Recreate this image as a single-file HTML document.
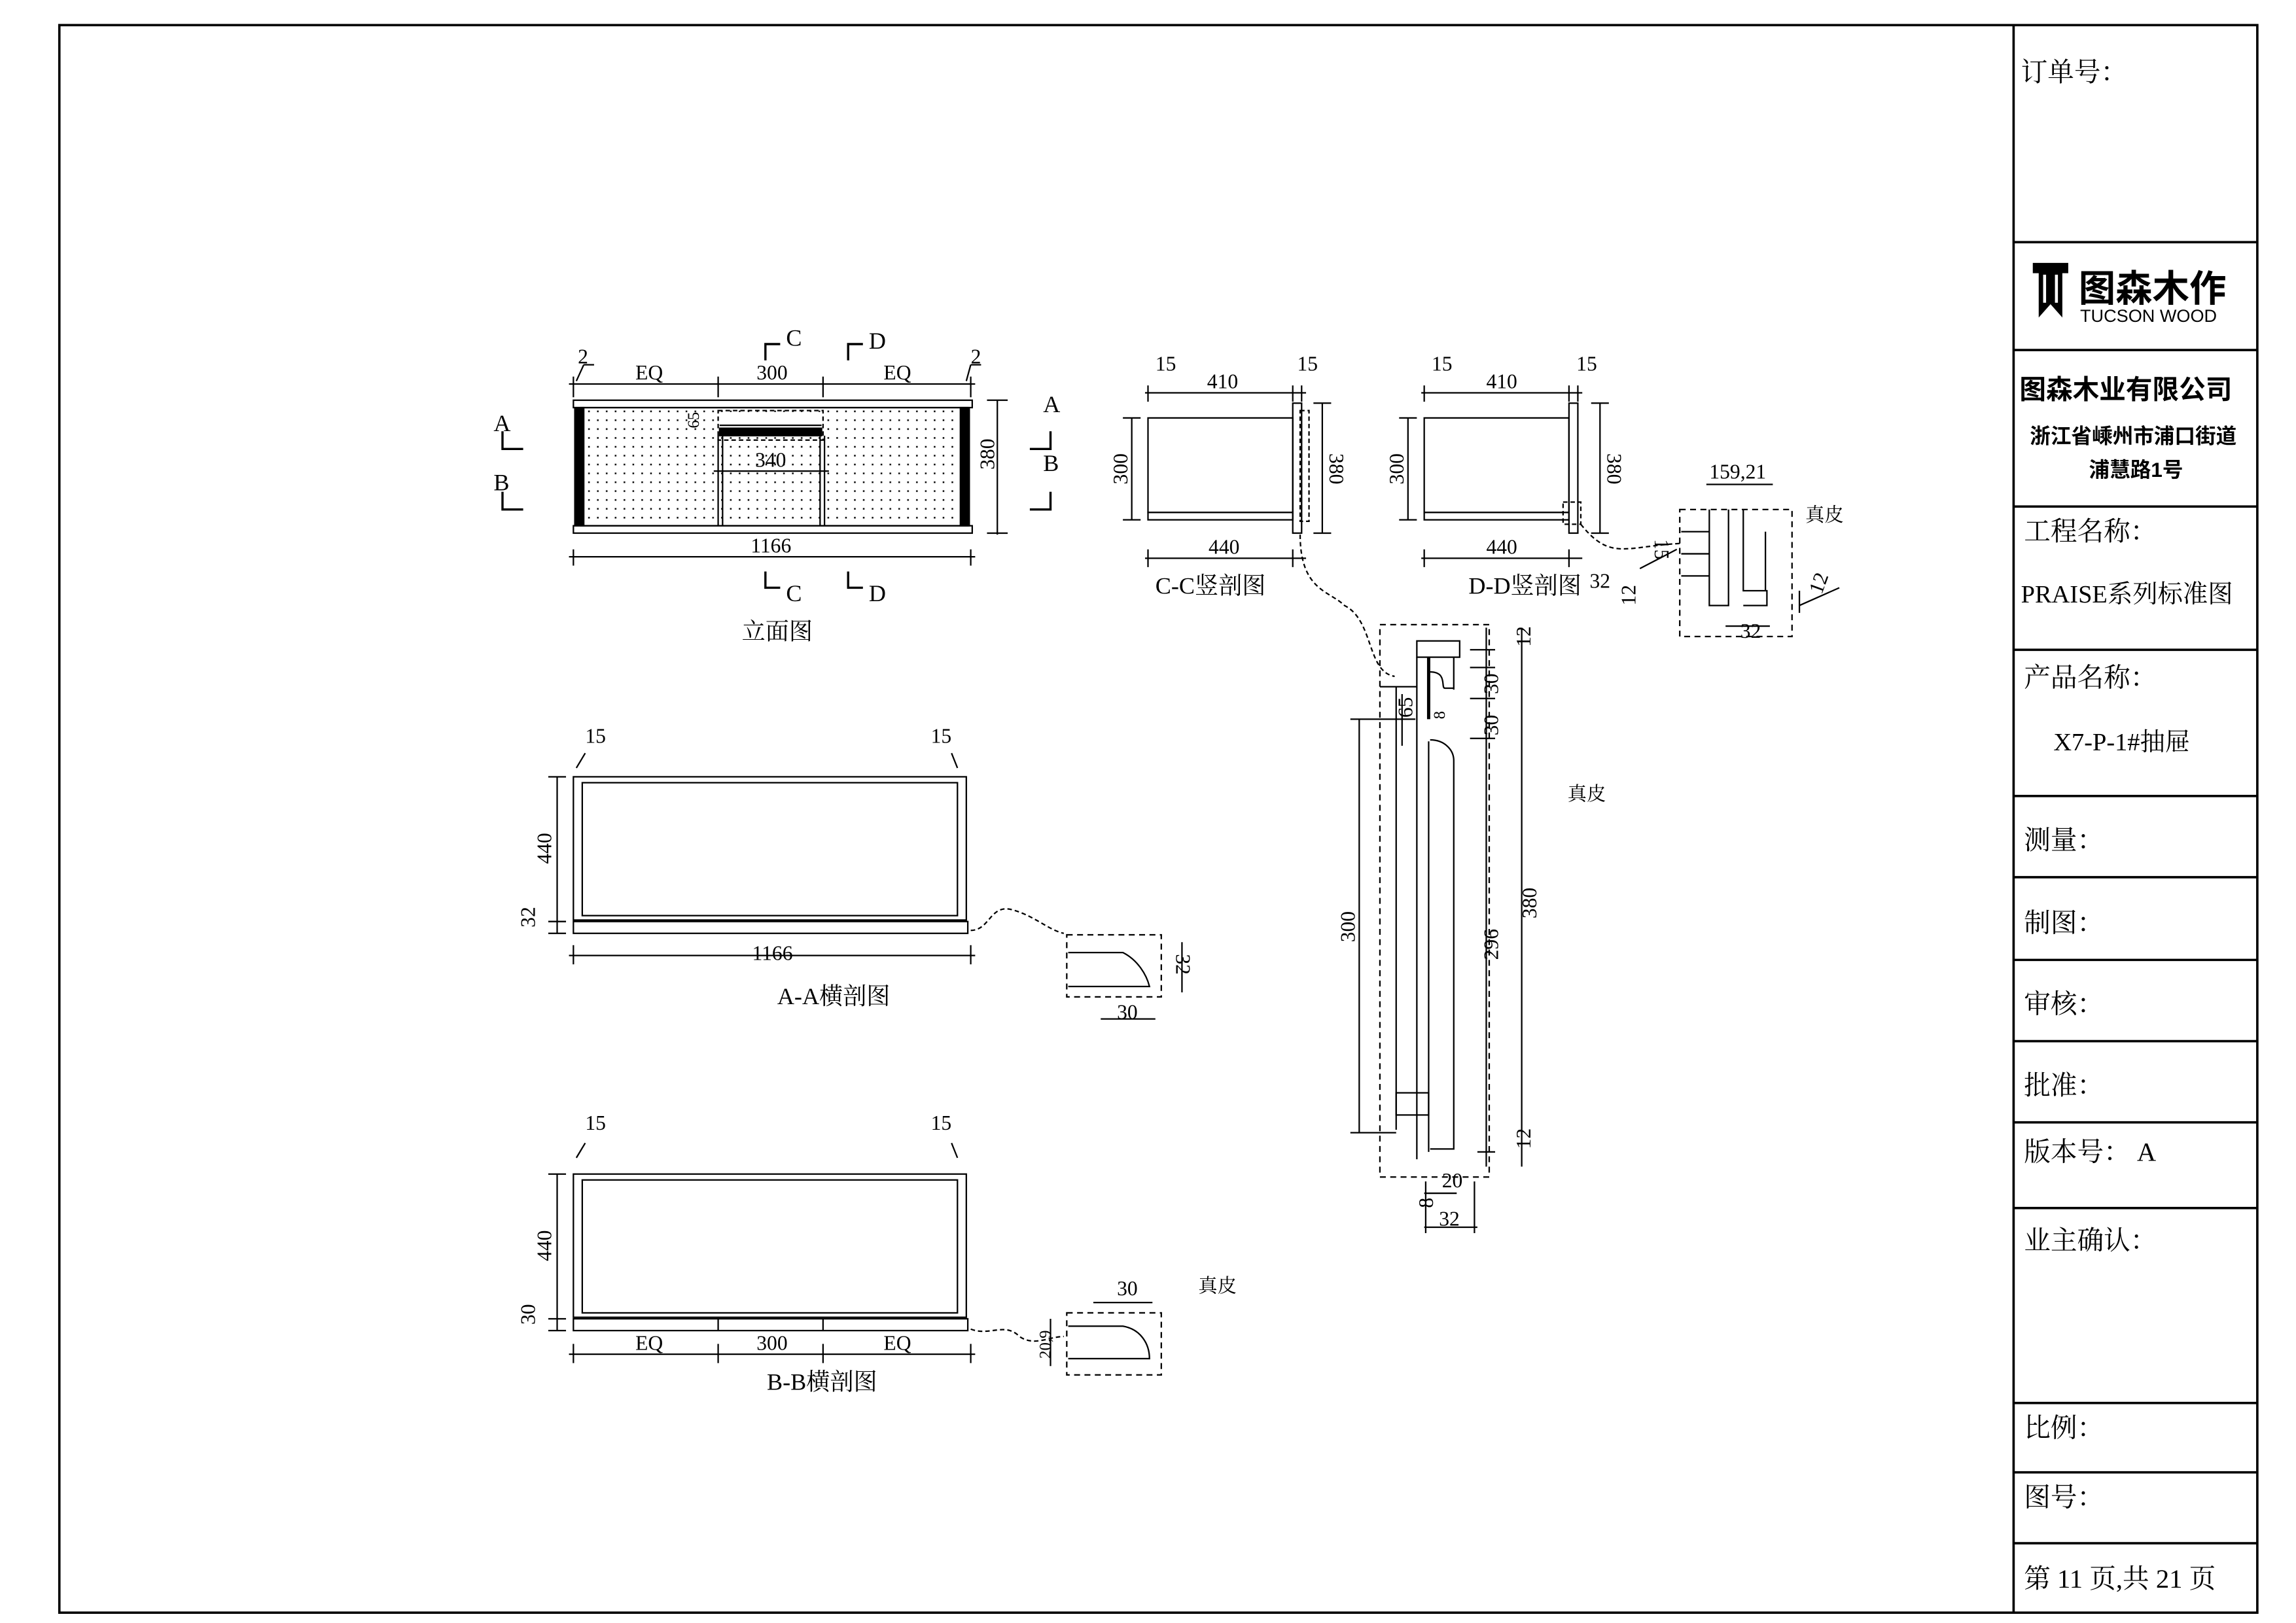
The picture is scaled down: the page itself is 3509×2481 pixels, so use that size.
<!DOCTYPE html>
<html><head><meta charset="utf-8"><style>
html,body{margin:0;padding:0;background:#fff}
svg{display:block}
text{font-family:"Liberation Serif","Noto Serif CJK SC",serif;fill:#000}
.cjk{font-family:"Liberation Serif","Noto Serif CJK SC",serif}
.sans{font-family:"Liberation Sans","Noto Sans CJK SC",sans-serif}
</style></head><body>
<svg width="3509" height="2481" viewBox="0 0 1554 1099" xmlns="http://www.w3.org/2000/svg">
<defs>
<pattern id="dots" width="6" height="6" patternUnits="userSpaceOnUse"><rect x="2" y="2" width="1.1" height="1.1" fill="#000"/></pattern>
</defs>
<g fill="none" stroke="#000" stroke-width="1">
<rect x="40" y="17" width="1488" height="1075" stroke-width="1.6"/>
<line x1="1363" y1="17" x2="1363" y2="1092" stroke-width="1.6"/>
<g stroke-width="1.6">
<line x1="1363" y1="164" x2="1528" y2="164"/>
<line x1="1363" y1="237" x2="1528" y2="237"/>
<line x1="1363" y1="343" x2="1528" y2="343"/>
<line x1="1363" y1="440" x2="1528" y2="440"/>
<line x1="1363" y1="539" x2="1528" y2="539"/>
<line x1="1363" y1="594" x2="1528" y2="594"/>
<line x1="1363" y1="650" x2="1528" y2="650"/>
<line x1="1363" y1="705" x2="1528" y2="705"/>
<line x1="1363" y1="760" x2="1528" y2="760"/>
<line x1="1363" y1="818" x2="1528" y2="818"/>
<line x1="1363" y1="950" x2="1528" y2="950"/>
<line x1="1363" y1="997" x2="1528" y2="997"/>
<line x1="1363" y1="1045" x2="1528" y2="1045"/>
</g>

<!-- Elevation -->
<rect x="388" y="271" width="270" height="5"/>
<rect x="388" y="356" width="270" height="5"/>
<rect x="393" y="276" width="262" height="80" fill="url(#dots)"/>
<rect x="389" y="276" width="6" height="80" fill="#000"/>
<rect x="650" y="276" width="6" height="80" fill="#000"/>
<rect x="487" y="279" width="70" height="9" fill="#fff" stroke="none"/>
<rect x="486" y="278" width="71" height="20" stroke-dasharray="3 2"/>
<line x1="487" y1="288" x2="556" y2="288"/>
<rect x="487" y="290" width="69" height="5" fill="#000"/>
<line x1="486" y1="295" x2="486" y2="356"/><line x1="489" y1="295" x2="489" y2="356"/>
<line x1="555" y1="295" x2="555" y2="356"/><line x1="558" y1="295" x2="558" y2="356"/>
<line x1="483" y1="319" x2="561" y2="319"/>
<line x1="385" y1="260" x2="660" y2="260"/>
<line x1="388" y1="255" x2="388" y2="269"/><line x1="486" y1="255" x2="486" y2="269"/><line x1="557" y1="255" x2="557" y2="269"/><line x1="657" y1="255" x2="657" y2="269"/>
<line x1="385" y1="377" x2="660" y2="377"/>
<line x1="388" y1="372" x2="388" y2="383"/><line x1="657" y1="372" x2="657" y2="383"/>
<line x1="675" y1="271" x2="675" y2="362"/>
<line x1="668" y1="271" x2="682" y2="271"/><line x1="668" y1="361" x2="682" y2="361"/>
<line x1="390" y1="258" x2="395" y2="247"/><line x1="395" y1="247" x2="402" y2="247"/>
<line x1="654" y1="258" x2="657" y2="247"/><line x1="657" y1="247" x2="664" y2="247"/>
<path d="M518 244 V233 H528" stroke-width="1.5"/><path d="M574 244 V233 H584" stroke-width="1.5"/>
<path d="M518 387 V398 H528" stroke-width="1.5"/><path d="M574 387 V398 H584" stroke-width="1.5"/>
<path d="M340 292 V304 H354" stroke-width="1.5"/><path d="M340 333 V345 H354" stroke-width="1.5"/>
<path d="M711 292 V304 H697" stroke-width="1.5"/><path d="M711 333 V345 H697" stroke-width="1.5"/>

<!-- C-C -->
<rect x="777" y="283" width="98" height="64"/>
<rect x="777" y="347" width="98" height="5"/>
<rect x="875" y="273" width="6" height="88"/>
<rect x="880" y="278" width="6" height="75" stroke-dasharray="3 2"/>
<line x1="775" y1="266" x2="884" y2="266"/><line x1="777" y1="261" x2="777" y2="272"/><line x1="875" y1="261" x2="875" y2="272"/><line x1="881" y1="261" x2="881" y2="272"/>
<line x1="775" y1="378" x2="884" y2="378"/><line x1="777" y1="372" x2="777" y2="384"/><line x1="875" y1="372" x2="875" y2="384"/>
<line x1="766" y1="283" x2="766" y2="352"/><line x1="760" y1="283" x2="772" y2="283"/><line x1="760" y1="352" x2="772" y2="352"/>
<line x1="895" y1="273" x2="895" y2="361"/><line x1="889" y1="273" x2="901" y2="273"/><line x1="889" y1="361" x2="901" y2="361"/>
<!-- D-D -->
<rect x="964" y="283" width="98" height="64"/>
<rect x="964" y="347" width="98" height="5"/>
<rect x="1062" y="273" width="6" height="88"/>
<rect x="1058" y="340" width="12" height="15" stroke-dasharray="3 2"/>
<line x1="962" y1="266" x2="1071" y2="266"/><line x1="964" y1="261" x2="964" y2="272"/><line x1="1062" y1="261" x2="1062" y2="272"/><line x1="1068" y1="261" x2="1068" y2="272"/>
<line x1="962" y1="378" x2="1071" y2="378"/><line x1="964" y1="372" x2="964" y2="384"/><line x1="1062" y1="372" x2="1062" y2="384"/>
<line x1="953" y1="283" x2="953" y2="352"/><line x1="947" y1="283" x2="959" y2="283"/><line x1="947" y1="352" x2="959" y2="352"/>
<line x1="1083" y1="273" x2="1083" y2="361"/><line x1="1077" y1="273" x2="1089" y2="273"/><line x1="1077" y1="361" x2="1089" y2="361"/>
<path d="M1070 355 C1090 380 1100 370 1137 368" stroke-dasharray="3 2"/>
<rect x="1137" y="345" width="76" height="86" stroke-dasharray="4 3"/>
<path d="M1157 345 V410 H1170 V345 M1170 345 V410 M1180 345 V400 H1196 V410 H1180" />
<path d="M1138 360 H1157 M1138 375 H1157 M1138 390 H1157 M1195 360 V400"/>
<line x1="1155" y1="328" x2="1200" y2="328"/>
<line x1="1168" y1="424" x2="1198" y2="424"/>
<line x1="1218" y1="400" x2="1218" y2="415"/><line x1="1218" y1="410" x2="1245" y2="398"/>
<line x1="1110" y1="385" x2="1135" y2="372"/>

<!-- big detail -->
<path d="M880 362 C880 400 900 400 910 410 C930 420 925 455 944 458" stroke-dasharray="3 2"/>
<rect x="934" y="423" width="74" height="374" stroke-dasharray="4 3"/>
<rect x="959" y="434" width="29" height="11"/>
<line x1="945" y1="465" x2="945" y2="765"/>
<line x1="959" y1="445" x2="959" y2="785"/>
<line x1="967" y1="445" x2="967" y2="487" stroke-width="2.2"/>
<line x1="967" y1="502" x2="967" y2="780"/>
<line x1="984" y1="445" x2="984" y2="467"/>
<path d="M968 455 C980 455 975 466 978 466 L984 466"/>
<path d="M968 501 C978 501 984 508 984 515 V778 H968"/>
<rect x="945" y="740" width="22" height="15"/>
<line x1="934" y1="465" x2="959" y2="465"/>
<line x1="1006" y1="425" x2="1006" y2="790"/>
<line x1="1030" y1="425" x2="1030" y2="790"/>
<line x1="949" y1="470" x2="949" y2="505"/>
<line x1="920" y1="487" x2="920" y2="767"/><line x1="914" y1="487" x2="958" y2="487"/><line x1="914" y1="767" x2="945" y2="767"/>
<line x1="995" y1="440" x2="1012" y2="440"/><line x1="995" y1="452" x2="1012" y2="452"/><line x1="995" y1="473" x2="1012" y2="473"/><line x1="995" y1="500" x2="1012" y2="500"/>
<line x1="1000" y1="780" x2="1012" y2="780"/>
<line x1="964" y1="831" x2="1000" y2="831"/><line x1="965" y1="800" x2="965" y2="835"/><line x1="998" y1="800" x2="998" y2="835"/>
<line x1="964" y1="808" x2="986" y2="808"/>

<!-- A-A -->
<rect x="388" y="526" width="266" height="97"/>
<rect x="394" y="530" width="254" height="90"/>
<rect x="388" y="624" width="267" height="8"/>
<line x1="377" y1="526" x2="377" y2="632"/><line x1="371" y1="526" x2="383" y2="526"/><line x1="371" y1="624" x2="383" y2="624"/><line x1="371" y1="632" x2="383" y2="632"/>
<line x1="385" y1="647" x2="660" y2="647"/><line x1="388" y1="640" x2="388" y2="653"/><line x1="657" y1="640" x2="657" y2="653"/>
<line x1="390" y1="520" x2="396" y2="510"/><line x1="648" y1="520" x2="644" y2="510"/>
<path d="M657 630 C670 630 670 612 685 616 C700 620 710 630 720 632" stroke-dasharray="3 2"/>
<rect x="722" y="633" width="64" height="42" stroke-dasharray="4 3"/>
<path d="M723 645 H760 C770 650 776 660 778 668 H723"/>
<line x1="800" y1="638" x2="800" y2="672"/>
<line x1="745" y1="690" x2="782" y2="690"/>

<!-- B-B -->
<rect x="388" y="795" width="266" height="97"/>
<rect x="394" y="799" width="254" height="90"/>
<rect x="388" y="893" width="267" height="8"/>
<line x1="486" y1="893" x2="486" y2="901"/><line x1="557" y1="893" x2="557" y2="901"/>
<line x1="377" y1="795" x2="377" y2="901"/><line x1="371" y1="795" x2="383" y2="795"/><line x1="371" y1="893" x2="383" y2="893"/><line x1="371" y1="901" x2="383" y2="901"/>
<line x1="385" y1="917" x2="660" y2="917"/><line x1="388" y1="910" x2="388" y2="923"/><line x1="486" y1="910" x2="486" y2="923"/><line x1="557" y1="910" x2="557" y2="923"/><line x1="657" y1="910" x2="657" y2="923"/>
<line x1="390" y1="784" x2="396" y2="774"/><line x1="648" y1="784" x2="644" y2="774"/>
<path d="M657 900 C670 905 680 895 690 905 C700 912 710 905 720 905" stroke-dasharray="3 2"/>
<rect x="722" y="889" width="64" height="42" stroke-dasharray="4 3"/>
<path d="M723 898 H760 C772 900 778 910 778 920 H723"/>
<line x1="740" y1="882" x2="780" y2="882"/>
<line x1="711" y1="893" x2="711" y2="925"/>
</g>

<!-- text -->
<g font-size="14">
<text x="391" y="246">2</text><text x="657" y="246">2</text>
<text x="430" y="257">EQ</text><text x="512" y="257">300</text><text x="598" y="257">EQ</text>
<text x="532" y="234" font-size="16">C</text><text x="588" y="236" font-size="16">D</text>
<text x="532" y="407" font-size="16">C</text><text x="588" y="407" font-size="16">D</text>
<text x="334" y="292" font-size="16">A</text><text x="334" y="332" font-size="16">B</text>
<text x="706" y="279" font-size="16">A</text><text x="706" y="319" font-size="16">B</text>
<text x="511" y="316">340</text><text x="508" y="374">1166</text>
<text x="473" y="290" transform="rotate(-90 473 290)" font-size="11">65</text>
<text x="673" y="318" transform="rotate(-90 673 318)">380</text>
<text x="782" y="251">15</text><text x="878" y="251">15</text><text x="817" y="263">410</text><text x="818" y="375">440</text>
<text x="763" y="328" transform="rotate(-90 763 328)">300</text><text x="900" y="307" transform="rotate(90 900 307)">380</text>
<text x="969" y="251">15</text><text x="1067" y="251">15</text><text x="1006" y="263">410</text><text x="1006" y="375">440</text>
<text x="950" y="328" transform="rotate(-90 950 328)">300</text><text x="1088" y="307" transform="rotate(90 1088 307)">380</text>
<text x="1076" y="398">32</text>
<text x="1157" y="324">159,21</text><text x="1178" y="432">32</text>
<text x="1120" y="365" transform="rotate(90 1120 365)">15</text><text x="1107" y="410" transform="rotate(-90 1107 410)">12</text><text x="1233" y="403" transform="rotate(-70 1233 403)">12</text>
<text x="956" y="486" transform="rotate(-90 956 486)">65</text>
<text x="978" y="487" transform="rotate(-90 978 487)" font-size="11">8</text>
<text x="1014" y="470" transform="rotate(-90 1014 470)">30</text><text x="1014" y="498" transform="rotate(-90 1014 498)">30</text>
<text x="1036" y="438" transform="rotate(-90 1036 438)">12</text><text x="1036" y="778" transform="rotate(-90 1036 778)">12</text>
<text x="917" y="638" transform="rotate(-90 917 638)">300</text>
<text x="1014" y="650" transform="rotate(-90 1014 650)">296</text>
<text x="1040" y="622" transform="rotate(-90 1040 622)">380</text>
<text x="976" y="804">20</text><text x="974" y="830">32</text><text x="970" y="818" transform="rotate(-90 970 818)">8</text>
<text x="396" y="503">15</text><text x="630" y="503">15</text>
<text x="373" y="585" transform="rotate(-90 373 585)">440</text><text x="362" y="628" transform="rotate(-90 362 628)">32</text>
<text x="509" y="650">1166</text>
<text x="796" y="646" transform="rotate(90 796 646)">32</text><text x="756" y="690">30</text>
<text x="396" y="765">15</text><text x="630" y="765">15</text>
<text x="373" y="854" transform="rotate(-90 373 854)">440</text><text x="362" y="897" transform="rotate(-90 362 897)">30</text>
<text x="430" y="914">EQ</text><text x="512" y="914">300</text><text x="598" y="914">EQ</text>
<text x="756" y="877">30</text><text x="711" y="920" transform="rotate(-90 711 920)" font-size="11">20,9</text>
</g>
<g font-size="16">
<text x="502" y="433">立面图</text>
<text x="782" y="402">C-C竖剖图</text>
<text x="994" y="402">D-D竖剖图</text>
<text x="526" y="680">A-A横剖图</text>
<text x="519" y="941">B-B横剖图</text>
<text x="1222" y="353" font-size="13">真皮</text>
<text x="1061" y="542" font-size="13">真皮</text>
<text x="811" y="875" font-size="13">真皮</text>
</g>
<!-- title block text -->
<g font-size="18">
<text x="1368" y="55">订单号：</text>
<text x="1367" y="270" font-weight="bold" class="sans">图森木业有限公司</text>
<text x="1374" y="300" font-size="14" font-weight="bold" class="sans">浙江省嵊州市浦口街道</text>
<text x="1414" y="323" font-size="14" font-weight="bold" class="sans">浦慧路1号</text>
<text x="1370" y="366">工程名称：</text>
<text x="1368" y="408" font-size="17">PRAISE系列标准图</text>
<text x="1370" y="465">产品名称：</text>
<text x="1390" y="508" font-size="17">X7-P-1#抽屉</text>
<text x="1370" y="575">测量：</text>
<text x="1370" y="631">制图：</text>
<text x="1370" y="686">审核：</text>
<text x="1370" y="741">批准：</text>
<text x="1370" y="786">版本号：  A</text>
<text x="1370" y="846">业主确认：</text>
<text x="1370" y="973">比例：</text>
<text x="1370" y="1020">图号：</text>
<text x="1370" y="1075">第 11 页,共 21 页</text>
</g>
<!-- logo -->
<path d="M1376 178 H1400 V185 H1396 V215 L1388 206 L1380 215 V185 H1376 Z" fill="#000"/>
<rect x="1383" y="186" width="2" height="19" fill="#fff"/><rect x="1391" y="186" width="2" height="19" fill="#fff"/>
<text x="1407" y="204" font-size="25" font-weight="bold" class="sans">图森木作</text>
<text x="1408" y="218" font-size="12" class="sans">TUCSON WOOD</text>
</svg>
</body></html>
